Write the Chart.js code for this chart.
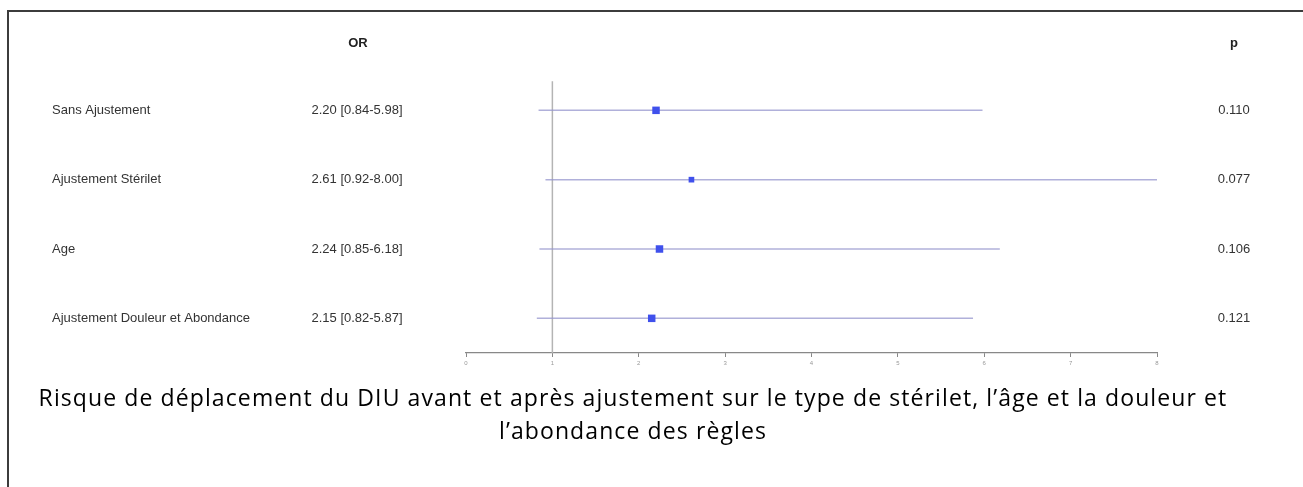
<!DOCTYPE html>
<html lang="fr">
<head>
<meta charset="utf-8">
<title>Risque de déplacement du DIU</title>
<script src="https://cdn.jsdelivr.net/npm/chart.js@4.4.1/dist/chart.umd.min.js"></script>
<style>
  html, body { margin: 0; padding: 0; background: #fff; overflow: hidden; }
  body { width: 1303px; height: 487px; position: relative; }
  #cadre {
    position: absolute; left: 7px; top: 10px; width: 1400px; height: 600px;
    border: 2px solid #3c3c3c;
  }
  #zone { position: absolute; left: 0; top: 0; width: 1303px; height: 487px; }
  #legende {
    position: absolute; left: -17px; width: 1300px; top: 381px;
    text-align: center; font-family: "Open Sans", sans-serif; font-size: 23px;
    letter-spacing: 1.1px; line-height: 33px; color: #000;
  }
</style>
</head>
<body>
<div id="cadre"></div>
<div id="zone"><canvas id="graphique"></canvas></div>
<div id="legende">Risque de déplacement du DIU avant et après ajustement sur le type de stérilet, l’âge et la douleur et<br>l’abondance des règles</div>

<script>
// données
const modeles = ['Sans Ajustement', 'Ajustement Stérilet', 'Age', 'Ajustement Douleur et Abondance'];
const oddsRatio = [2.20, 2.61, 2.24, 2.15];
const icBas = [0.84, 0.92, 0.85, 0.82];
const icHaut = [5.98, 8.00, 6.18, 5.87];
const valeursP = [0.110, 0.077, 0.106, 0.121];
const ticksX = [0, 1, 2, 3, 4, 5, 6, 7, 8];
const REFERENCE = 1;

// taille des carrés (poids)
const rayons = [5.3, 4.0, 5.3, 5.3];

const BLEU = '#3f50ec';
const LAVANDE = 'rgba(150, 150, 205, 0.75)';

const lignesIC = modeles.map((m, i) => ({
    label: m,
    type: 'line',
    data: [{ x: icBas[i], y: i }, { x: icHaut[i], y: i }],
    borderColor: LAVANDE,
    borderWidth: 1.5,
    pointRadius: 0,
    order: 2
}));

const ligneRef = {
    label: 'ref',
    type: 'line',
    data: [{ x: REFERENCE, y: -0.42 }, { x: REFERENCE, y: 3.5 }],
    borderColor: '#b4b4b4',
    borderWidth: 1.5,
    pointRadius: 0,
    order: 3
};

const points = {
    label: 'OR',
    type: 'scatter',
    data: oddsRatio.map((v, i) => ({ x: v, y: i })),
    pointStyle: 'rect',
    pointRadius: rayons,
    pointHoverRadius: rayons,
    backgroundColor: BLEU,
    borderColor: BLEU,
    borderWidth: 0,
    order: 1
};

// colonnes de texte (libellés, OR [IC], p)
const colonnes = {
    id: 'colonnes',
    afterDraw(chart) {
        const c = chart.ctx;
        const y = chart.scales.y;
        c.save();
        c.textBaseline = 'middle';
        c.fillStyle = '#222';
        c.font = 'bold 13px "Liberation Sans", Arial, sans-serif';
        c.textAlign = 'center';
        c.fillText('OR', 358, y.getPixelForValue(-0.97));
        c.fillText('p', 1234, y.getPixelForValue(-0.97));

        c.font = '13px "Liberation Sans", Arial, sans-serif';
        c.fillStyle = '#333';
        modeles.forEach((m, i) => {
            const py = y.getPixelForValue(i);
            c.textAlign = 'left';
            c.fillText(m, 52, py);
            c.textAlign = 'center';
            const txt = oddsRatio[i].toFixed(2) + ' [' + icBas[i].toFixed(2) + '-' + icHaut[i].toFixed(2) + ']';
            c.fillText(txt, 357, py);
            c.fillText(valeursP[i].toFixed(3), 1234, py);
        });
        c.restore();
    }
};

const ctx = document.getElementById('graphique').getContext('2d');
const chart = new Chart(ctx, {
    type: 'scatter',
    data: { datasets: [ligneRef, ...lignesIC, points] },
    options: {
        responsive: true,
        maintainAspectRatio: false,
        animation: false,
        layout: { padding: { left: 466, right: 146, top: 41, bottom: 0 } },
        plugins: {
            legend: { display: false },
            tooltip: { enabled: false },
            title: { display: false }
        },
        scales: {
            x: {
                type: 'linear',
                min: 0,
                max: 8,
                afterBuildTicks(scale) {
                    scale.ticks = ticksX.map(v => ({ value: v }));
                },
                afterFit(scale) { scale.height = 134; },
                grid: {
                    drawOnChartArea: false,
                    drawTicks: true,
                    tickLength: 4,
                    color: '#888'
                },
                border: { display: true, color: '#888', width: 1.2 },
                ticks: {
                    color: '#999',
                    font: { size: 6, family: '"Liberation Sans", Arial, sans-serif' },
                    padding: 3,
                    maxRotation: 0
                }
            },
            y: {
                type: 'linear',
                display: false,
                reverse: true,
                min: -1,
                max: 3.5
            }
        }
    },
    plugins: [colonnes]
});
</script>
</body>
</html>
